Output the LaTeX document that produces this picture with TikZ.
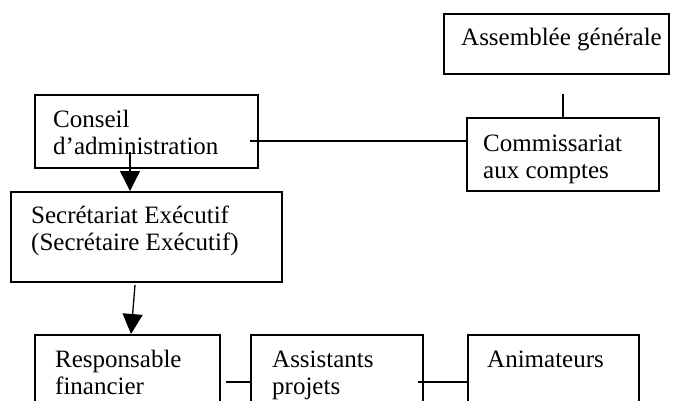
\documentclass[tikz,border=0pt]{standalone}
\usepackage{fontspec}
\setmainfont{Liberation Serif}
\usetikzlibrary{arrows.meta}
\begin{document}
\begin{tikzpicture}[x=1pt,y=-1pt,
  box/.style={draw,line width=1.7pt,anchor=north west,inner sep=0pt},
  txt/.style={anchor=base west,inner sep=0pt,align=left,font=\fontsize{25}{27}\selectfont},
  link/.style={line width=1.3pt},
  arr/.style={line width=1.3pt,-{Triangle[width=20pt,length=20pt]}}]
\useasboundingbox (0,0) rectangle (677,400);
\clip (0,0) rectangle (677,400);
% boxes
\node[box,minimum width=225pt,minimum height=60pt] (ag) at (443,13) {};
\node[box,minimum width=192pt,minimum height=73pt] (ca) at (466,117) {};
\node[box,minimum width=223pt,minimum height=73pt] (cd) at (34,94) {};
\node[box,minimum width=271pt,minimum height=90pt] (se) at (10,191) {};
\node[box,minimum width=185pt,minimum height=90pt] (rf) at (34,334) {};
\node[box,minimum width=172pt,minimum height=90pt] (ap) at (250,334) {};
\node[box,minimum width=171pt,minimum height=90pt] (an) at (467,334) {};
% texts (anchor = baseline of last line)
\node[txt] (tag) at (461,45) {Assemblée générale};
\node[txt] (tca) at (483,178) {Commissariat\\aux comptes};
\node[txt] (tcd) at (53,154) {Conseil\\d’administration};
\node[txt] (tse) at (31,250) {Secrétariat Exécutif\\(Secrétaire Exécutif)};
\node[txt] (trf) at (55,394) {Responsable\\financier};
\node[txt] (tap) at (272,394) {Assistants\\projets};
\node[txt] (tan) at (487,367) {Animateurs};
% connectors
\coordinate (agl) at (563,94);
\draw[link] (agl) -- (agl |- ca.north);
\coordinate (cdl) at (250,141);
\draw[link] (cdl) -- (cdl -| ca.west);
\coordinate (cda) at (130,152);
\draw[arr] (cda) -- (cda |- se.north);
\coordinate (sea) at (135,285);
\coordinate (rfa) at (131,334);
\draw[arr] (sea) -- (rfa);
\coordinate (rfl) at (226,382);
\draw[link] (rfl) -- (rfl -| ap.west);
\coordinate (apl) at (418,382);
\draw[link] (apl) -- (apl -| an.west);
\end{tikzpicture}
\end{document}
